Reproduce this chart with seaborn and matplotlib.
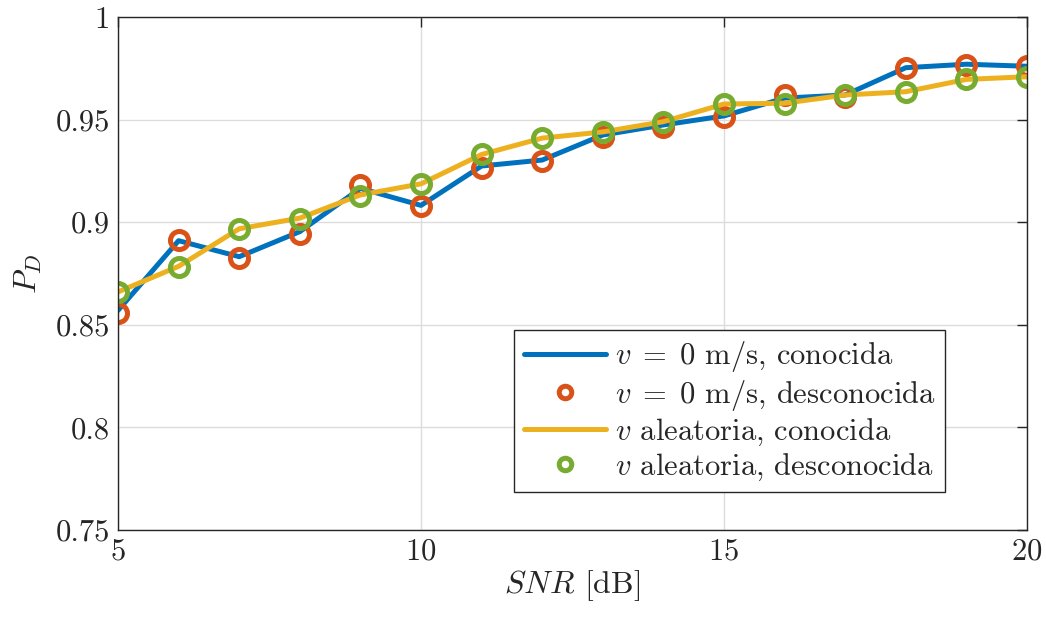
import numpy as np
import pandas as pd
import matplotlib
matplotlib.use('Agg')
import matplotlib.pyplot as plt
import seaborn as sns
from matplotlib.ticker import FixedLocator, FixedFormatter

# data
snr = [5, 6, 7, 8, 9, 10, 11, 12, 13, 14, 15, 16, 17, 18, 19, 20]
pd_v0_known = [0.857, 0.891, 0.8832, 0.8954, 0.9165, 0.9082, 0.9274, 0.9303,
               0.9425, 0.9474, 0.9518, 0.9605, 0.962, 0.9753, 0.977, 0.976]
pd_v0_unknown = [0.8556, 0.8913, 0.8827, 0.8941, 0.9181, 0.9079, 0.9264, 0.9298,
                 0.9414, 0.9465, 0.9511, 0.962, 0.9612, 0.9753, 0.9766, 0.9761]
pd_rand_known = [0.866, 0.8785, 0.8968, 0.902, 0.9133, 0.9187, 0.933, 0.941,
                 0.944, 0.949, 0.9576, 0.958, 0.962, 0.9636, 0.9696, 0.9709]
pd_rand_unknown = [0.8661, 0.8783, 0.8965, 0.9016, 0.9128, 0.9185, 0.9332, 0.9409,
                   0.9441, 0.949, 0.9576, 0.9576, 0.962, 0.9636, 0.9696, 0.9709]

labels = [r'$v\;=\;0$ m/s, conocida', r'$v\;=\;0$ m/s, desconocida',
          r'$v$ aleatoria, conocida', r'$v$ aleatoria, desconocida']

xticks = [5, 10, 15, 20]
yticks = [0.75, 0.8, 0.85, 0.9, 0.95, 1.0]
ytick_labels = ['0.75', '0.8', '0.85', '0.9', '0.95', '1']

df = pd.DataFrame({'snr': snr, 'a': pd_v0_known, 'b': pd_v0_unknown,
                   'c': pd_rand_known, 'd': pd_rand_unknown})

sns.set_style('white')
plt.rcParams['font.family'] = 'serif'
plt.rcParams['font.serif'] = ['cmr10', 'DejaVu Serif']
plt.rcParams['mathtext.fontset'] = 'cm'
plt.rcParams['axes.formatter.use_mathtext'] = True

blue = '#0072BD'
red = '#D95319'
yellow = '#EDB120'
green = '#77AC30'

fig = plt.figure(figsize=(10.46, 6.19), dpi=100)
ax = fig.add_axes([0.1128, 0.1438, 0.869, 0.8287])

sns.lineplot(data=df, x='snr', y='a', ax=ax, color=blue, linewidth=3.6, label=labels[0])
sns.lineplot(data=df, x='snr', y='b', ax=ax, color=red, linestyle='none', marker='o',
             markersize=13, markerfacecolor='none', markeredgecolor=red,
             markeredgewidth=3.6, label=labels[1])
sns.lineplot(data=df, x='snr', y='c', ax=ax, color=yellow, linewidth=3.6, label=labels[2])
sns.lineplot(data=df, x='snr', y='d', ax=ax, color=green, linestyle='none', marker='o',
             markersize=13, markerfacecolor='none', markeredgecolor=green,
             markeredgewidth=3.6, label=labels[3])

ax.set_xlim(5, 20)
ax.set_ylim(0.75, 1.0)
ax.xaxis.set_major_locator(FixedLocator(xticks))
ax.yaxis.set_major_locator(FixedLocator(yticks))
ax.yaxis.set_major_formatter(FixedFormatter(ytick_labels))
ax.tick_params(direction='in', length=7, width=1, labelsize=22, colors='#262626',
               top=True, right=True, pad=6)
ax.grid(True, color='#dcdcdc', linewidth=1)
for s in ax.spines.values():
    s.set_color('#262626')
    s.set_linewidth(1)

ax.set_xlabel(r'$SNR$ [dB]', fontsize=23, color='#262626', labelpad=2)
ax.set_ylabel(r'$P_D$', fontsize=23, color='#262626', labelpad=8)

handles, labs = ax.get_legend_handles_labels()
leg = ax.legend(handles, labs, loc='lower right', bbox_to_anchor=(0.91, 0.074),
                fontsize=22, frameon=True, fancybox=False, framealpha=1,
                edgecolor='#262626', handlelength=2.7, labelspacing=0.12,
                borderpad=0.3, handletextpad=0.3, borderaxespad=0)
leg.get_frame().set_linewidth(1)
for h in leg.legend_handles:
    h.set_markersize(9)

fig.savefig('out.png', dpi=100)
